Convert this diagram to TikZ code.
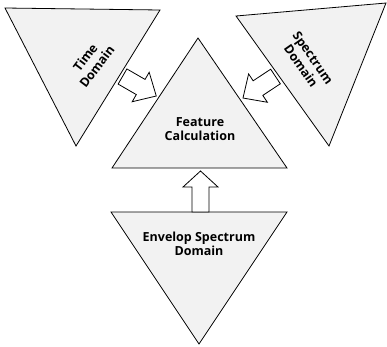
\documentclass[tikz,border=0pt]{standalone}
\usepackage{fontspec}
\setmainfont{Open Sans}
\begin{document}
\begin{tikzpicture}[x=1pt,y=-1pt,
  tri/.style={draw=black, line width=0.8pt, fill=black!5, line join=miter},
  lbl/.style={font=\bfseries\fontsize{12.5}{14.5}\selectfont, align=center, inner sep=0pt},
  blockarrow/.style={draw=black, line width=0.8pt, fill=white, line join=miter}]
\useasboundingbox (0,0) rectangle (387,346);
% triangle vertices
\coordinate (t1) at (5,8);   \coordinate (t2) at (160,10);  \coordinate (t3) at (76,146);
\coordinate (f1) at (198,38); \coordinate (f2) at (287,168); \coordinate (f3) at (112,168);
\coordinate (s1) at (236,16); \coordinate (s2) at (386,3);  \coordinate (s3) at (329,146);
\coordinate (e1) at (111,212); \coordinate (e2) at (287,212); \coordinate (e3) at (199,344);
\draw[tri] (t1) -- (t2) -- (t3) -- cycle;
\draw[tri] (f1) -- (f2) -- (f3) -- cycle;
\draw[tri] (s1) -- (s2) -- (s3) -- cycle;
\draw[tri] (e1) -- (e2) -- (e3) -- cycle;
% labels
\node[lbl, rotate=53] (time) at (91,62) {Time\\Domain};
\node[lbl, rotate=-55] (spec) at (307,62) {Spectrum\\Domain};
\node[lbl] (feat) at (200,129) {Feature\\Calculation};
\node[lbl] (env) at (199,244) {Envelop Spectrum\\Domain};
% arrow anchors
\coordinate (a1) at (122.5,76.5);
\coordinate (a2) at (275.5,76.5);
\coordinate (a3) at (200.5,212);
% block arrows
\begin{scope}[shift={(a1)}, rotate=-30]
  \draw[blockarrow] (0,-8.75) -- (21,-8.75) -- (21,-17) -- (39,0) -- (21,17) -- (21,8.75) -- (0,8.75) -- cycle;
\end{scope}
\begin{scope}[shift={(a2)}, rotate=213.5]
  \draw[blockarrow] (0,-8.75) -- (21,-8.75) -- (21,-17) -- (39,0) -- (21,17) -- (21,8.75) -- (0,8.75) -- cycle;
\end{scope}
\begin{scope}[shift={(a3)}, rotate=90]
  \draw[blockarrow] (0,-8.5) -- (25,-8.5) -- (25,-17.5) -- (41,0) -- (25,17.5) -- (25,8.5) -- (0,8.5) -- cycle;
\end{scope}
\end{tikzpicture}
\end{document}
